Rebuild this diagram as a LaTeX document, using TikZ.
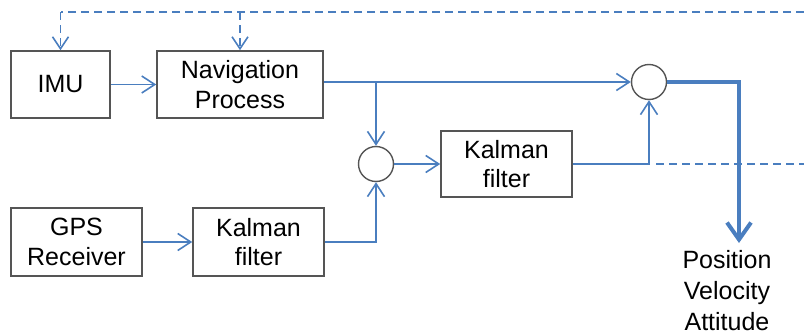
\documentclass[tikz,border=0pt]{standalone}
\usepackage{fontspec}
\setmainfont{Liberation Sans}
\usetikzlibrary{arrows.meta}
\definecolor{ln}{HTML}{4A7EBF}
\definecolor{bx}{HTML}{555555}
\tikzset{
  blk/.style={draw=bx, line width=1.6pt, fill=white, minimum height=67pt, align=center, font=\fontsize{25}{29.5}\selectfont, inner sep=0pt},
  sumc/.style={draw=bx, line width=1.4pt, circle, minimum size=35pt, inner sep=0pt},
  flow/.style={draw=ln, line width=1.6pt, -{Straight Barb[length=13pt,width=17pt,line width=1.6pt]}},
  fb/.style={draw=ln, line width=1.6pt, dash pattern=on 8pt off 5pt},
  fbarrow/.style={fb, -{Straight Barb[length=12pt,width=16pt,line width=1.6pt,sep=0pt]}},
  outp/.style={draw=ln, line width=4pt, -{Straight Barb[length=17pt,width=24pt,line width=4pt]}},
  lbl/.style={align=center, font=\fontsize{25}{31}\selectfont, inner sep=0pt}
}
\begin{document}
\begin{tikzpicture}[x=1pt,y=-1pt]
\useasboundingbox (0,0) rectangle (804,332);
\node[blk, minimum width=99pt] (imu) at (60.5,84.5) {IMU};
\node[blk, minimum width=166pt] (nav) at (240,84.5) {Navigation\\Process};
\node[blk, minimum width=131pt, minimum height=68pt] (gps) at (76.5,242) {GPS\\Receiver};
\node[blk, minimum width=131pt, minimum height=68pt] (kf1) at (258.5,242) {Kalman\\filter};
\node[blk, minimum width=131pt, minimum height=66pt] (kf2) at (506.5,164) {Kalman\\filter};
\node[sumc] (c1) at (376,164) {};
\node[sumc] (c2) at (649,82) {};
\node[lbl, anchor=north] (pva) at (727,250) {Position\\Velocity\\Attitude};
\coordinate (fbR) at (804,12);
\coordinate (fbL) at (60.5,12);
\coordinate (fbM) at (240,12);
\coordinate (br) at (376,82);
\coordinate (dsS) at (656,164);
\coordinate (dsE) at (804,164);
\coordinate (oe) at (739,243);
% feedback dashed
\draw[fb] (fbR) -- (fbL);
\draw[fbarrow] (fbL) -- (imu.north);
\draw[fbarrow] (fbM) -- (nav.north);
% flows
\draw[flow] (imu) -- (nav);
\draw[flow] (nav.east |- c2) -- (c2.west);
\draw[flow] (br) -- (c1.north);
\draw[flow] (gps) -- (kf1);
\draw[flow] (kf1.east) -| (c1.south);
\draw[flow] (c1.east) -- (kf2.west);
\draw[flow] (kf2.east) -| (c2.south);
\draw[fb] (dsS) -- (dsE);
\draw[outp] (c2.east) -| (oe);
\end{tikzpicture}
\end{document}
